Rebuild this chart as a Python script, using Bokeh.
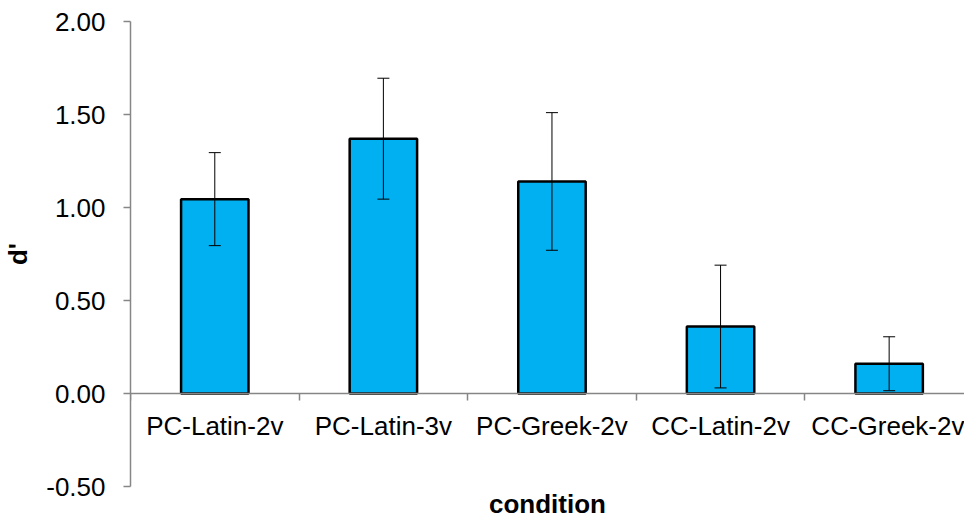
from bokeh.plotting import figure
from bokeh.models import (ColumnDataSource, Range1d, FixedTicker, LinearAxis,
                          NumeralTickFormatter, Whisker, TeeHead)
from bokeh.embed import file_html
from bokeh.resources import INLINE

categories = ["PC-Latin-2v", "PC-Latin-3v", "PC-Greek-2v", "CC-Latin-2v", "CC-Greek-2v"]
dprime = [1.045, 1.37, 1.14, 0.36, 0.16]
errors = [0.25, 0.325, 0.37, 0.33, 0.145]
y_ticks = [-0.5, 0.0, 0.5, 1.0, 1.5, 2.0]

FONT = "Liberation Sans"
GRAY = "#868686"
FS = "26px"

n = len(categories)
centers = [i + 0.5 for i in range(n)]
bounds = list(range(n + 1))

src = ColumnDataSource(dict(
    x=centers,
    d=dprime,
    upper=[m + e for m, e in zip(dprime, errors)],
    lower=[m - e for m, e in zip(dprime, errors)],
))

x_end = 4.947
p = figure(width=964, height=521, output_backend="svg", toolbar_location=None,
           x_range=Range1d(0, x_end), y_range=Range1d(-0.5, 2.0),
           min_border_left=128, min_border_right=0, min_border_top=21,
           min_border_bottom=34)
p.outline_line_color = None
p.grid.visible = False
p.background_fill_color = "white"
p.border_fill_color = "white"

p.vbar(x="x", top="d", width=0.4, bottom=0, source=src,
       fill_color="#00B0F0", line_color="black", line_width=2.5)

w = Whisker(source=src, base="x", upper="upper", lower="lower",
            line_color="black", line_width=1, level="annotation",
            upper_head=TeeHead(size=12, line_color="black", line_width=1),
            lower_head=TeeHead(size=12, line_color="black", line_width=1))
p.add_layout(w)

# y axis
ya = p.yaxis[0]
ya.ticker = FixedTicker(ticks=y_ticks, minor_ticks=[])
ya.formatter = NumeralTickFormatter(format="0.00")
ya.axis_line_color = GRAY
ya.axis_line_width = 1.5
ya.major_tick_line_color = GRAY
ya.major_tick_line_width = 1.5
ya.major_tick_out = 7
ya.major_tick_in = 0
ya.minor_tick_line_color = None
ya.major_label_standoff = 18
ya.major_label_text_font = FONT
ya.major_label_text_font_size = FS
ya.major_label_text_color = "black"
ya.axis_label = "d'"
ya.axis_label_text_font = FONT
ya.axis_label_text_font_size = FS
ya.axis_label_text_font_style = "bold"
ya.axis_label_text_color = "black"
ya.axis_label_standoff = 10

# bottom axis carrying only the title "condition"
xa = p.xaxis[0]
xa.ticker = FixedTicker(ticks=[], minor_ticks=[])
xa.axis_line_color = None
xa.major_tick_out = 0
xa.major_tick_in = 0
xa.minor_tick_out = 0
xa.minor_tick_in = 0
xa.major_label_standoff = 0
xa.axis_label = "condition"
xa.axis_label_text_font = FONT
xa.axis_label_text_font_size = FS
xa.axis_label_text_font_style = "bold"
xa.axis_label_text_color = "black"
xa.axis_label_standoff = 2

# category axis at y = 0
ca = LinearAxis(fixed_location=0,
                ticker=FixedTicker(ticks=centers, minor_ticks=bounds))
ca.major_label_overrides = {c: lab for c, lab in zip(centers, categories)}
ca.axis_line_color = GRAY
ca.axis_line_width = 1.5
ca.major_tick_line_color = None
ca.major_tick_out = 0
ca.major_tick_in = 0
ca.minor_tick_line_color = GRAY
ca.minor_tick_line_width = 1.5
ca.minor_tick_out = 7
ca.minor_tick_in = 0
ca.major_label_standoff = 10
ca.major_label_text_font = FONT
ca.major_label_text_font_size = FS
ca.major_label_text_color = "black"
p.add_layout(ca, "below")

open("out.html", "w").write(file_html(p, INLINE))
